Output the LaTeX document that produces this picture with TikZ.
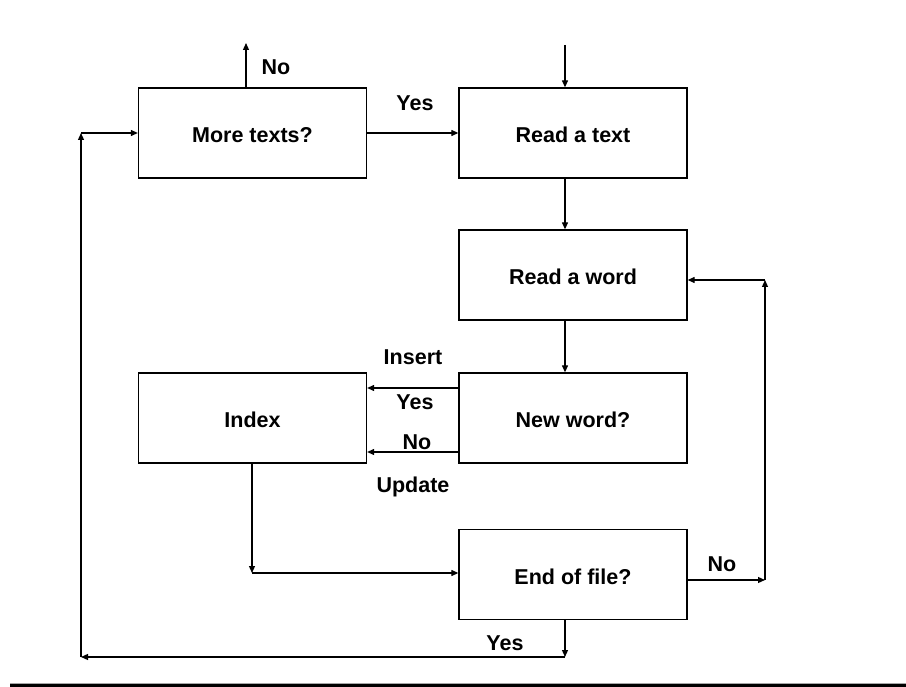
\documentclass[tikz,border=0pt]{standalone}
\usepackage{fontspec}
\setmainfont{Liberation Sans}
\usetikzlibrary{arrows.meta}
\begin{document}
\begin{tikzpicture}[x=1pt,y=-1pt,
  every node/.style={font=\fontsize{21.5}{25}\selectfont\bfseries},
  procbox/.style={draw=black,line width=1.3pt,rectangle,minimum width=228pt,minimum height=90pt,inner sep=0pt,text height=20pt,text depth=0pt},
  arr/.style={line width=1.2pt,-{Triangle[length=7pt,width=6pt]}},
  lbl/.style={inner sep=0pt}]
\useasboundingbox (0,0) rectangle (906,687);

% process boxes
\node[procbox] (mt) at (252.5,133) {More texts?};
\node[procbox] (rt) at (573,133) {Read a text};
\node[procbox] (rw) at (573,275) {Read a word};
\node[procbox] (ix) at (252.5,418) {Index};
\node[procbox] (nw) at (573,418) {New word?};
\node[procbox] (ef) at (573,574.5) {End of file?};

% routing points
\coordinate (start) at (565,45);
\coordinate (notexts) at (246,43);
\coordinate (ixdown) at (252,573);
\coordinate (loopr1) at (765,580);
\coordinate (loopr2) at (765,280);
\coordinate (loopb1) at (565,657);
\coordinate (loopb2) at (81,657);
\coordinate (loopb3) at (81,133);

% main flow
\draw[arr] (start) -- (start |- rt.north);
\draw[arr] (mt.east) -- (rt.west);
\draw[arr] (mt.north -| notexts) -- (notexts);
\draw[arr] (rt.south -| start) -- (rw.north -| start);
\draw[arr] (rw.south -| start) -- (nw.north -| start);
\draw[arr] ([yshift=30pt]nw.west) -- ([yshift=30pt]ix.east);
\draw[arr] ([yshift=-34pt]nw.west) -- ([yshift=-34pt]ix.east);
\draw[arr] (ix.south -| ixdown) -- (ixdown);
\draw[arr] (ixdown) -- (ixdown -| ef.west);

% word loop
\draw[arr] (ef.east |- loopr1) -- (loopr1);
\draw[arr] (loopr1) -- (loopr2);
\draw[arr] (loopr2) -- (loopr2 -| rw.east);

% text loop
\draw[arr] (ef.south -| loopb1) -- (loopb1);
\draw[arr] (loopb1) -- (loopb2);
\draw[arr] (loopb2) -- (loopb3);
\draw[arr] (loopb3) -- (mt.west);

% labels
\node[lbl] (l1) at (415,103) {Yes};
\node[lbl] (l2) at (276,67) {No};
\node[lbl] (l3) at (413,357) {Insert};
\node[lbl] (l4) at (415,402) {Yes};
\node[lbl] (l5) at (417,442) {No};
\node[lbl] (l6) at (413,487) {Update};
\node[lbl] (l7) at (722,564) {No};
\node[lbl] (l8) at (505,643) {Yes};

% bottom rule
\fill[gray!70] (10,682.5) rectangle (906,684);
\fill[black] (10,684) rectangle (906,687);
\end{tikzpicture}
\end{document}
